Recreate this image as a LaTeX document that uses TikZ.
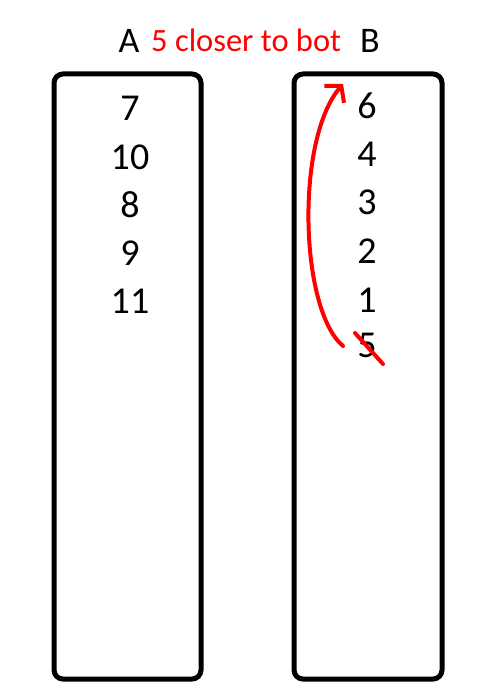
\documentclass[tikz,border=0pt]{standalone}
\usepackage{fontspec}
\setmainfont{Carlito}
\usetikzlibrary{arrows.meta}
\definecolor{myred}{RGB}{255,0,0}
\begin{document}
\begin{tikzpicture}[x=1pt,y=-1pt,
  stack/.style={draw=black,line width=5pt,rounded corners=9pt},
  num/.style={anchor=base,inner sep=0pt,font=\fontsize{38}{40}\selectfont},
  head/.style={anchor=base,inner sep=0pt,font=\fontsize{36}{40}\selectfont},
  note/.style={anchor=base west,inner sep=0pt,text=myred,font=\fontsize{32.5}{36}\selectfont},
  redline/.style={draw=myred,line width=4pt,line cap=round}]
\useasboundingbox (0,0) rectangle (500,700);
% boxes
\draw[stack] (54,74) rectangle (201,679);
\draw[stack] (294,74) rectangle (442,679);
% headers
\node[head] (hA) at (129,53) {A};
\node[note] (hn) at (151,52) {5 closer to bot};
\node[head] (hB) at (370,53) {B};
% column A
\node[num] (a1) at (130,121) {7};
\node[num] (a2) at (130,169.2) {10};
\node[num] (a3) at (130,217.4) {8};
\node[num] (a4) at (130,265.6) {9};
\node[num] (a5) at (130,313.8) {11};
% column B
\node[num] (b1) at (367,118.7) {6};
\node[num] (b2) at (367,167) {4};
\node[num] (b3) at (367,215) {3};
\node[num] (b4) at (367,263.5) {2};
\node[num] (b5) at (367,312.5) {1};
\node[num] (b6) at (367,357) {5};
% red marks
\coordinate (s) at (343,346);
\coordinate (t) at (343,84);
\draw[redline,-{Straight Barb[length=11pt,width=26pt]}] (s) .. controls (300,310) and (295,140) .. (t);
\coordinate (x1) at (355,333);
\coordinate (x2) at (383,364);
\draw[redline] (x1) -- (x2);
\end{tikzpicture}
\end{document}
